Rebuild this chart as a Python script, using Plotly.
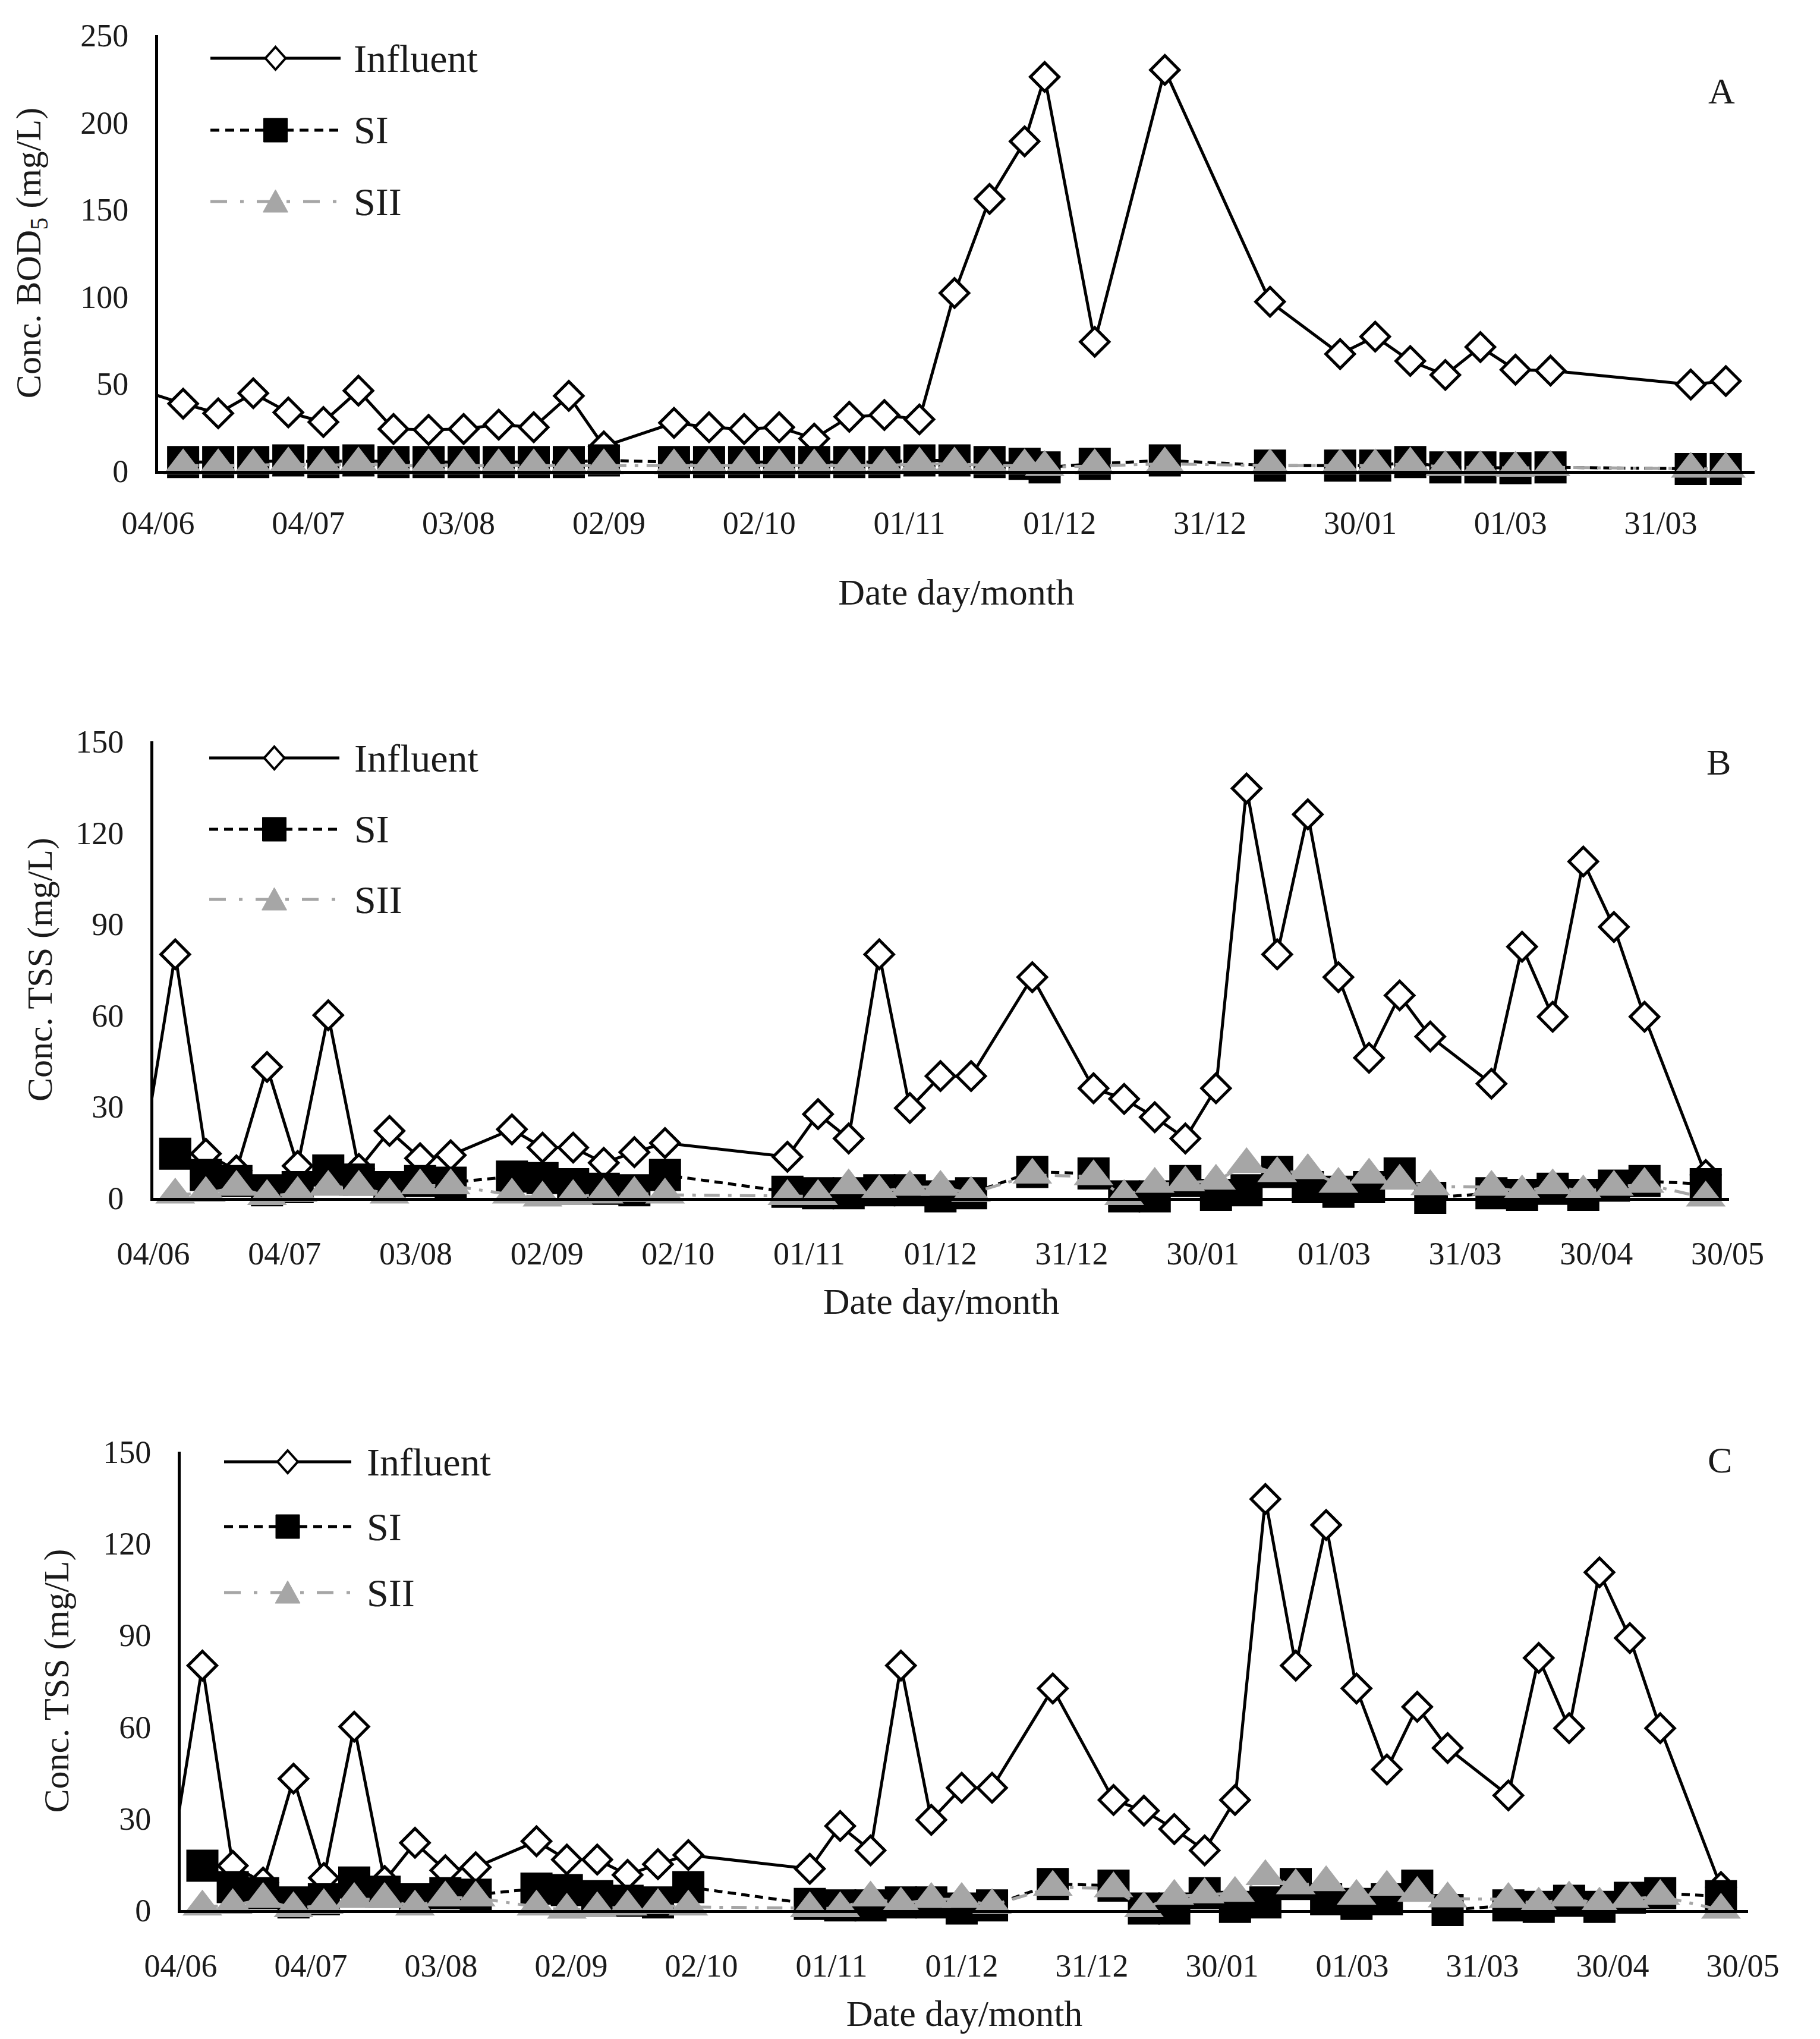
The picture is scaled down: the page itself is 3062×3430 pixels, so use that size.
import plotly.graph_objects as go

W, H = 3062, 3430
FONT = "Liberation Serif"
GRAY = "#A6A6A6"
TXT = "#1a1a1a"

# ---------------- data ----------------
# panel A : BOD5 (mg/L)
a_inf_dates = ["2018-06-02", "2018-06-09", "2018-06-16", "2018-06-23", "2018-06-30", "2018-07-07",
               "2018-07-14", "2018-07-21", "2018-07-28", "2018-08-04", "2018-08-11", "2018-08-18",
               "2018-08-25", "2018-09-01", "2018-09-15", "2018-09-22", "2018-09-29", "2018-10-06",
               "2018-10-13", "2018-10-20", "2018-10-27", "2018-11-03", "2018-11-10", "2018-11-17",
               "2018-11-24", "2018-11-28", "2018-12-08", "2018-12-22", "2019-01-12", "2019-01-26",
               "2019-02-02", "2019-02-09", "2019-02-16", "2019-02-23", "2019-03-02", "2019-03-09",
               "2019-04-06", "2019-04-13"]
a_influent = [45, 38.5, 33, 44.5, 33.5, 28, 46, 24, 23.5, 24, 26.5, 25, 43, 14, 27.5, 25, 24, 25,
              18.5, 31, 32, 29.5, 102, 156, 189, 226, 74, 230, 97, 67, 77, 63, 55, 71, 58, 57.5,
              49.5, 51.5]
a_eff_dates = a_inf_dates[1:]
a_si = [5, 5, 5, 6, 5, 6, 5, 5, 5, 5, 5, 5, 6, 5, 5, 5, 5, 5, 5, 5, 6,
        6, 5, 4, 2, 4, 6, 3, 3, 3, 5, 2, 2, 1.5, 2, 1, 1]
a_sii = [3, 3, 3, 4, 3, 4, 3, 3, 3, 3, 3, 3, 3, 3, 3, 3, 3, 3, 3, 3, 4,
         4, 3, 3, 2, 3, 4, 3, 3, 3, 4, 2, 2, 1.5, 2, 1, 1]

# panels B and C : TSS (mg/L)
b_inf_dates = ["2018-06-02", "2018-06-09", "2018-06-16", "2018-06-23", "2018-06-30", "2018-07-07",
               "2018-07-14", "2018-07-21", "2018-07-28", "2018-08-04", "2018-08-11", "2018-08-25",
               "2018-09-01", "2018-09-08", "2018-09-15", "2018-09-22", "2018-09-29", "2018-10-27",
               "2018-11-03", "2018-11-10", "2018-11-17", "2018-11-24", "2018-12-01", "2018-12-08",
               "2018-12-22", "2019-01-05", "2019-01-12", "2019-01-19", "2019-01-26", "2019-02-02",
               "2019-02-09", "2019-02-16", "2019-02-23", "2019-03-02", "2019-03-09", "2019-03-16",
               "2019-03-23", "2019-04-06", "2019-04-13", "2019-04-20", "2019-04-27", "2019-05-04",
               "2019-05-11", "2019-05-25"]
b_influent = [18, 80, 14.5, 9, 43, 10.5, 60, 9.5, 22, 13, 14, 22.5, 16.5, 16.5, 11.5, 15, 18,
              13.5, 27.5, 19.5, 80, 29.5, 40, 40, 72.5, 36, 32.5, 26.5, 19.5, 36, 134.5, 80, 126,
              72.5, 46, 66.5, 53, 37.5, 82.5, 59.5, 110.5, 89, 59.5, 7.5]
b_eff_dates = b_inf_dates[1:]
b_si = [14.5, 7.5, 5.5, 2.5, 3.5, 9, 6, 3.5, 5.5, 5, 7, 6.5, 4.5, 3, 2.5, 7.5,
        2, 1.5, 1.5, 2.5, 2.5, 0.5, 1.5, 8.5, 8, 0.5, 0.5, 5.5, 1, 2.5, 8.5, 3.5,
        2, 3.5, 8, 0, 1.5, 1, 3, 1, 4, 5.5, 4.5]
b_sii = [1, 1.5, 3.5, 0.5, 1.5, 3.5, 3.5, 1, 4, 4, 1, 0, 0.5, 1, 1.5, 1,
         0.5, 0.5, 4, 2, 3.5, 3.5, 1.5, 7.5, 7, 0.5, 4.5, 5, 5.5, 11, 8, 9,
         4.5, 7.5, 5.5, 3.7, 3.5, 2, 4, 2, 3.5, 4.5, 0]

tick_dates = ["2018-06-04", "2018-07-04", "2018-08-03", "2018-09-02", "2018-10-02", "2018-11-01",
              "2018-12-01", "2018-12-31", "2019-01-30", "2019-03-01", "2019-03-31", "2019-04-30",
              "2019-05-30"]
tick_labels = ["04/06", "04/07", "03/08", "02/09", "02/10", "01/11", "01/12", "31/12", "30/01",
               "01/03", "31/03", "30/04", "30/05"]

series_names = ["Influent", "SI", "SII"]


def px(x):
    return x / W


def py(y):
    return 1 - y / H


fig = go.Figure()

panels = [
    dict(inf_d=a_inf_dates, inf=a_influent, eff_d=a_eff_dates, si=a_si, sii=a_sii, ax="",
         xdom=(266, 2952), ydom=(792, 59), xend="2019-04-18 18:00", ymax=250, dtick=50,
         ytitle="Conc. BOD<sub>5</sub> (mg/L)", ystand=49, xlab=36, xstand=66,
         letter="A", letter_pos=(2896, 153),
         leg_line=(354, 573), leg_rows=(98, 219, 339), leg_text=593),
    dict(inf_d=b_inf_dates, inf=b_influent, eff_d=b_eff_dates, si=b_si, sii=b_sii, ax="2",
         xdom=(258, 2909), ydom=(2015, 1247), xend="2019-05-30 08:00", ymax=150, dtick=30,
         ytitle="Conc. TSS (mg/L)", ystand=22, xlab=42, xstand=30,
         letter="B", letter_pos=(2891, 1282),
         leg_line=(352, 571), leg_rows=(1275, 1395, 1513), leg_text=594),
    dict(inf_d=b_inf_dates, inf=b_influent, eff_d=b_eff_dates, si=b_si, sii=b_sii, ax="3",
         xdom=(304, 2941), ydom=(3213, 2442), xend="2019-05-31 06:00", ymax=150, dtick=30,
         ytitle="Conc. TSS (mg/L)", ystand=40, xlab=42, xstand=30,
         letter="C", letter_pos=(2893, 2456),
         leg_line=(377, 591), leg_rows=(2459, 2568, 2679), leg_text=615),
]

shapes = []
annotations = []
layout_axes = {}

for p in panels:
    xa, ya = "x" + p["ax"], "y" + p["ax"]
    common = dict(xaxis=xa, yaxis=ya, mode="lines+markers", showlegend=False)
    fig.add_trace(go.Scatter(x=p["inf_d"], y=p["inf"], name="Influent", cliponaxis=True,
                             line=dict(color="black", width=5),
                             marker=dict(symbol="diamond", size=37, color="white",
                                         line=dict(color="black", width=5)), **common))
    fig.add_trace(go.Scatter(x=p["eff_d"], y=p["si"], name="SI", cliponaxis=False,
                             line=dict(color="black", width=5, dash="14px,9px"),
                             marker=dict(symbol="square", size=54, color="black"), **common))
    fig.add_trace(go.Scatter(x=p["eff_d"], y=p["sii"], name="SII", cliponaxis=False,
                             line=dict(color=GRAY, width=5, dash="26px,14px,6px,14px"),
                             marker=dict(symbol="triangle-up", size=58, color=GRAY,
                                         line=dict(width=0)), **common))

    xkey = "xaxis" + p["ax"]
    ykey = "yaxis" + p["ax"]
    layout_axes[xkey] = dict(
        type="date", domain=[px(p["xdom"][0]), px(p["xdom"][1])], anchor=ya,
        range=["2018-06-04", p["xend"]], tickvals=tick_dates, ticktext=tick_labels,
        showline=True, linecolor="black", linewidth=5, showgrid=False, zeroline=False,
        ticks="", ticklabelstandoff=p["xlab"], automargin=False,
        tickfont=dict(family=FONT, size=54, color=TXT),
        title=dict(text="Date day/month", font=dict(family=FONT, size=62, color=TXT),
                   standoff=p["xstand"]),
    )
    layout_axes[ykey] = dict(
        domain=[py(p["ydom"][0]), py(p["ydom"][1])], anchor=xa,
        range=[0, p["ymax"]], dtick=p["dtick"],
        showline=True, linecolor="black", linewidth=5, showgrid=False, zeroline=False,
        ticks="", ticklabelstandoff=34, automargin=False,
        tickfont=dict(family=FONT, size=54, color=TXT),
        title=dict(text=p["ytitle"], font=dict(family=FONT, size=60, color=TXT),
                   standoff=p["ystand"]),
    )

    # panel letter
    annotations.append(dict(text=p["letter"], xref="paper", yref="paper",
                            x=px(p["letter_pos"][0]), y=py(p["letter_pos"][1]),
                            xanchor="center", yanchor="middle", showarrow=False,
                            font=dict(family=FONT, size=62, color=TXT)))

    # legend drawn inside the plot area
    x0, x1 = p["leg_line"]
    cx = (x0 + x1) / 2
    r_inf, r_si, r_sii = p["leg_rows"]
    shapes.append(dict(type="line", xref="paper", yref="paper", x0=px(x0), x1=px(x1),
                       y0=py(r_inf), y1=py(r_inf), line=dict(color="black", width=5)))
    shapes.append(dict(type="path", xref="paper", yref="paper",
                       path=f"M{px(cx)},{py(r_inf - 19)} L{px(cx + 17)},{py(r_inf)} "
                            f"L{px(cx)},{py(r_inf + 19)} L{px(cx - 17)},{py(r_inf)} Z",
                       fillcolor="white", line=dict(color="black", width=4)))
    shapes.append(dict(type="line", xref="paper", yref="paper", x0=px(x0), x1=px(x1),
                       y0=py(r_si), y1=py(r_si), line=dict(color="black", width=5, dash="15px,10px")))
    shapes.append(dict(type="rect", xref="paper", yref="paper", x0=px(cx - 20), x1=px(cx + 20),
                       y0=py(r_si + 20), y1=py(r_si - 20), fillcolor="black",
                       line=dict(color="black", width=1)))
    shapes.append(dict(type="line", xref="paper", yref="paper", x0=px(x0), x1=px(x1),
                       y0=py(r_sii), y1=py(r_sii),
                       line=dict(color=GRAY, width=5, dash="28px,22px,6px,22px")))
    shapes.append(dict(type="path", xref="paper", yref="paper",
                       path=f"M{px(cx - 21)},{py(r_sii + 18)} L{px(cx + 21)},{py(r_sii + 18)} "
                            f"L{px(cx)},{py(r_sii - 20)} Z",
                       fillcolor=GRAY, line=dict(color=GRAY, width=1)))
    for name, row in zip(series_names, p["leg_rows"]):
        annotations.append(dict(text=name, xref="paper", yref="paper", x=px(p["leg_text"]),
                                y=py(row), xanchor="left", yanchor="middle", showarrow=False,
                                font=dict(family=FONT, size=66, color=TXT)))

fig.update_layout(
    width=W, height=H,
    margin=dict(l=0, r=0, t=0, b=0),
    paper_bgcolor="white", plot_bgcolor="white",
    font=dict(family=FONT, color=TXT),
    showlegend=False,
    shapes=shapes,
    annotations=annotations,
    **layout_axes,
)

fig.write_html("out.html", config={"displayModeBar": False},
               post_script="document.body.style.margin='0';")
